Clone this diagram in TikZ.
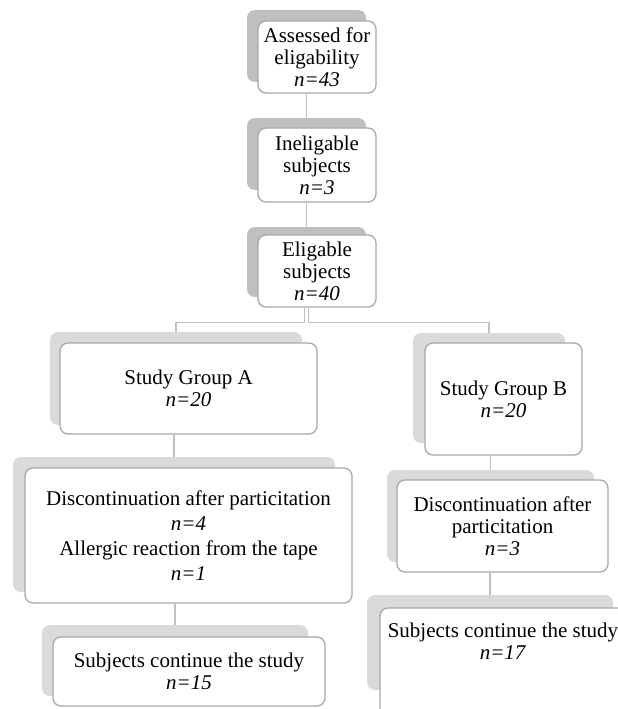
\documentclass[tikz,border=0pt]{standalone}
\usepackage{fontspec}
\setmainfont{Liberation Serif}
\usepackage{xcolor}
\usetikzlibrary{calc}

\definecolor{backdark}{RGB}{191,191,191}
\definecolor{backlight}{RGB}{218,218,218}
\definecolor{cardline}{RGB}{168,168,168}
\definecolor{linkgray}{RGB}{192,192,192}
\newcommand{\nval}[1]{\textit{n=#1}}

\begin{document}
\begin{tikzpicture}[
    x=1pt, y=-1pt,
    back/.style={rectangle, fill=backlight, rounded corners=8pt, inner sep=0pt},
    card/.style={rectangle, draw=cardline, fill=white, line width=1.3pt, rounded corners=8pt, align=center, inner sep=0pt, font=\fontsize{21}{22}\selectfont},
    link/.style={draw=linkgray, line width=1.5pt}
]
    \useasboundingbox (0,0) rectangle (618,709);
    \clip (0,0) rectangle (618,709);

    % gray backs
    \node [back, fill=backdark, minimum width=119pt, minimum height=72pt] (t1) at (306.5,46) {};
    \node [back, fill=backdark, minimum width=119pt, minimum height=72pt] (t2) at (306.5,154) {};
    \node [back, fill=backdark, minimum width=119pt, minimum height=70pt] (t3) at (306.5,262) {};
    \node [back, minimum width=252pt, minimum height=93pt] (bA1) at (176,378.5) {};
    \node [back, minimum width=152pt, minimum height=110pt] (bB1) at (489,388) {};
    \node [back, minimum width=322pt, minimum height=135pt] (bdA) at (174,524.5) {};
    \node [back, minimum width=207pt, minimum height=92pt] (bdB) at (490.5,516) {};
    \node [back, minimum width=266pt, minimum height=71pt] (bsA) at (175,660.5) {};
    \node [back, minimum width=246pt, minimum height=95pt] (bsB) at (490,642.5) {};

    % white cards
    \node [card, minimum width=118pt, minimum height=72pt] (c1) at (317,57) {Assessed for\\eligability\\\nval{43}};
    \node [card, minimum width=118pt, minimum height=74pt] (c2) at (317,165) {Ineligable\\subjects\\\nval{3}};
    \node [card, minimum width=118pt, minimum height=72pt] (c3) at (317,271) {Eligable\\subjects\\\nval{40}};
    \node [card, minimum width=257pt, minimum height=91pt] (gA) at (188.5,388.5) {Study Group A\\\nval{20}};
    \node [card, minimum width=157pt, minimum height=112pt] (gB) at (503.5,399) {Study Group B\\\nval{20}};
    \node [card, minimum width=327pt, minimum height=135pt] (dA) at (188.5,535.5) {Discontinuation after particitation\\[3pt]\nval{4}\\[3pt]Allergic reaction from the tape\\[3pt]\nval{1}};
    \node [card, minimum width=211pt, minimum height=92pt] (dB) at (502.5,526) {Discontinuation after\\particitation\\\nval{3}};
    \node [card, minimum width=272pt, minimum height=69pt] (sA) at (189,671.5) {Subjects continue the study\\\nval{15}};
    \node [card, minimum width=246pt, minimum height=110pt, text depth=44pt] (sB) at (503,663) {Subjects continue the study\\\nval{17}};

    % connectors
    \draw [link] (t2.north |- c1.south) -- (t2.north);
    \draw [link] (t3.north |- c2.south) -- (t3.north);
    \draw [link] ($(t3.center |- c3.south)+(-2,0)$) -- ++(0,15) -| (bA1.north);
    \draw [link] ($(t3.center |- c3.south)+(2,0)$) -- ++(0,15) -| (bB1.north);
    \draw [link] (bdA.north |- gA.south) -- (bdA.north);
    \draw [link] (bsA.north |- dA.south) -- (bsA.north);
    \draw [link] (bdB.north |- gB.south) -- (bdB.north);
    \draw [link] (bsB.north |- dB.south) -- (bsB.north);
\end{tikzpicture}
\end{document}
